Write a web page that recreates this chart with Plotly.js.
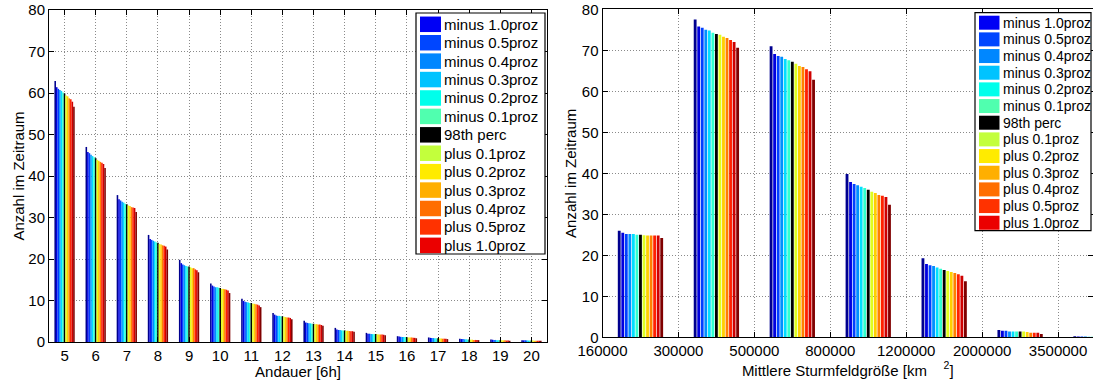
<!DOCTYPE html>
<html>
<head>
<meta charset="utf-8">
<script src="https://cdn.plot.ly/plotly-3.0.1.min.js"></script>
<style>html,body{margin:0;padding:0;background:#fff;}#chart{width:1093px;height:380px;}</style>
</head>
<body>
<div id="chart"></div>
<script>
// ---------------- DATA ----------------
const seriesNames = ['minus 1.0proz','minus 0.5proz','minus 0.4proz','minus 0.3proz','minus 0.2proz','minus 0.1proz','98th perc','plus 0.1proz','plus 0.2proz','plus 0.3proz','plus 0.4proz','plus 0.5proz','plus 1.0proz'];

// Left chart: Andauer [6h] categories
const durCats = [5,6,7,8,9,10,11,12,13,14,15,16,17,18,19,20];
const dur_m10 = [62.9,47.0,35.4,25.8,19.8,14.1,10.4,7.0,5.1,3.4,2.2,1.4,1.1,0.8,0.6,0.45];
const dur_m05 = [61.4,45.8,34.4,24.8,19.0,13.6,9.9,6.6,4.7,3.0,2.0,1.3,1.0,0.7,0.55,0.4];
const dur_m04 = [61.0,45.5,34.1,24.6,18.7,13.4,9.7,6.4,4.6,2.9,2.0,1.25,0.95,0.7,0.5,0.4];
const dur_m03 = [60.7,45.1,33.8,24.4,18.5,13.2,9.6,6.3,4.5,2.9,1.95,1.2,0.95,0.65,0.5,0.4];
const dur_m02 = [60.5,44.8,33.6,24.2,18.3,13.2,9.5,6.3,4.5,2.8,1.9,1.2,0.9,0.65,0.45,0.35];
const dur_m01 = [60.1,44.5,33.3,24.0,18.2,13.1,9.4,6.2,4.4,2.8,1.9,1.2,0.9,0.6,0.45,0.35];
const dur_p98 = [59.9,44.3,33.2,23.9,18.2,13.0,9.4,6.2,4.4,2.8,1.9,1.15,0.9,0.6,0.45,0.35];
const dur_p01 = [59.4,43.9,32.9,23.6,18.0,12.8,9.2,6.1,4.3,2.7,1.85,1.1,0.85,0.55,0.4,0.35];
const dur_p02 = [59.2,43.7,32.8,23.5,17.8,12.8,9.2,6.0,4.3,2.7,1.8,1.1,0.85,0.55,0.4,0.3];
const dur_p03 = [58.7,43.4,32.5,23.3,17.8,12.7,9.1,5.9,4.2,2.65,1.8,1.1,0.8,0.5,0.4,0.3];
const dur_p04 = [58.5,43.2,32.4,23.2,17.5,12.6,9.0,5.9,4.2,2.6,1.8,1.05,0.8,0.5,0.35,0.3];
const dur_p05 = [57.9,42.9,32.3,23.0,17.3,12.4,8.8,5.8,4.1,2.6,1.75,1.0,0.8,0.5,0.35,0.3];
const dur_p10 = [56.7,41.9,31.3,22.3,16.8,11.8,8.4,5.5,3.9,2.5,1.6,0.9,0.7,0.45,0.3,0.3];

// Right chart: Mittlere Sturmfeldgroesse bins (bin index) and bin-edge tick labels
const sizeBins = [1,2,3,4,5,6,7];
const sizeEdgeLabels = ['160000','300000','500000','800000','1200000','2000000','3500000'];
const size_m10 = [26.0,77.5,71.0,39.8,19.3,1.8,0.25];
const size_m05 = [25.5,75.8,69.1,37.9,17.9,1.6,0.2];
const size_m04 = [25.2,75.5,68.6,37.4,17.6,1.6,0.2];
const size_m03 = [25.2,75.0,68.4,37.1,17.4,1.4,0.2];
const size_m02 = [25.2,74.8,67.9,36.7,17.0,1.4,0.15];
const size_m01 = [25.0,74.3,67.6,36.4,16.7,1.4,0.15];
const size_p98 = [25.0,74.0,67.2,36.0,16.4,1.4,0.15];
const size_p01 = [24.9,73.8,66.7,35.5,16.2,1.4,0.15];
const size_p02 = [24.8,73.3,66.2,35.2,15.9,1.3,0.1];
const size_p03 = [24.8,73.0,65.9,34.7,15.7,1.1,0.1];
const size_p04 = [24.8,72.5,65.4,34.5,15.4,1.1,0.1];
const size_p05 = [24.8,72.0,64.9,34.2,15.0,1.1,0.1];
const size_p10 = [24.2,70.6,62.8,32.3,13.7,0.8,0.1];

const durSeries = [dur_m10,dur_m05,dur_m04,dur_m03,dur_m02,dur_m01,dur_p98,dur_p01,dur_p02,dur_p03,dur_p04,dur_p05,dur_p10];
const sizeSeries = [size_m10,size_m05,size_m04,size_m03,size_m02,size_m01,size_p98,size_p01,size_p02,size_p03,size_p04,size_p05,size_p10];

// ---------------- STYLE ----------------
const barColors = ['rgb(0,0,143)','rgb(0,0,223)','rgb(0,64,255)','rgb(0,143,255)','rgb(0,223,255)','rgb(48,255,207)','rgb(0,0,0)','rgb(223,255,32)','rgb(255,207,0)','rgb(255,128,0)','rgb(255,32,0)','rgb(207,0,0)','rgb(128,0,0)'];
const legendColors = ['rgb(0,0,245)','rgb(0,70,255)','rgb(0,135,255)','rgb(0,195,255)','rgb(0,255,235)','rgb(80,255,175)','rgb(0,0,0)','rgb(195,255,60)','rgb(255,235,0)','rgb(255,175,0)','rgb(255,110,0)','rgb(255,50,0)','rgb(235,0,0)'];

const W = 1093, H = 380;
const FONT = 'Liberation Sans, Arial, Helvetica, sans-serif';
const px = x => x / W;
const py = y => 1 - y / H;

const traces = [];
const nS = seriesNames.length;
// left: touching bars, group width ~0.652
const lGroup = 0.652, lSlot = lGroup / nS;
// right: separated bars, group width ~0.606
const rGroup = 0.606, rSlot = rGroup / nS;
for (let i = 0; i < nS; i++) {
  traces.push({
    type: 'bar', x: durCats, y: durSeries[i], name: seriesNames[i],
    xaxis: 'x', yaxis: 'y',
    offset: -lGroup / 2 + i * lSlot, width: lSlot,
    marker: {color: barColors[i], line: {width: 0}},
    showlegend: false, hoverinfo: 'x+y+name'
  });
  traces.push({
    type: 'bar', x: sizeBins, y: sizeSeries[i], name: seriesNames[i],
    xaxis: 'x2', yaxis: 'y2',
    offset: -rGroup / 2 + i * rSlot + rSlot * 0.1, width: rSlot * 0.8,
    marker: {color: barColors[i], line: {width: 0}},
    showlegend: false, hoverinfo: 'y+name'
  });
}

const axisCommon = {
  showline: true, linecolor: '#000', linewidth: 1, mirror: 'ticks',
  ticks: 'inside', ticklen: 5, tickwidth: 1, tickcolor: '#000',
  showgrid: true, gridcolor: '#8a8a8a', gridwidth: 1, griddash: '1px,2px',
  zeroline: false, automargin: false,
  tickfont: {family: FONT, size: 15, color: '#000'}
};

const shapes = [];
const annotations = [];
function buildLegend(o) {
  shapes.push({type: 'rect', xref: 'paper', yref: 'paper', layer: 'above',
    x0: px(o.x0), x1: px(o.x1), y0: py(o.y1), y1: py(o.y0),
    fillcolor: '#fff', line: {color: '#000', width: 1.2}});
  for (let i = 0; i < seriesNames.length; i++) {
    const yc = o.first + i * o.pitch;
    shapes.push({type: 'rect', xref: 'paper', yref: 'paper', layer: 'above',
      x0: px(o.sw0), x1: px(o.sw1), y0: py(yc + o.swH / 2), y1: py(yc - o.swH / 2),
      fillcolor: legendColors[i], line: {width: 0}});
    annotations.push({xref: 'paper', yref: 'paper', x: px(o.tx), y: py(yc),
      xanchor: 'left', yanchor: 'middle', showarrow: false, borderpad: 0,
      text: seriesNames[i], font: {family: FONT, size: o.fs, color: '#000'}});
  }
}
buildLegend({x0: 416, x1: 545, y0: 13, y1: 254, sw0: 420, sw1: 441, tx: 443, first: 24.3, pitch: 18.42, swH: 15.5, fs: 15});
buildLegend({x0: 975, x1: 1091, y0: 12.7, y1: 230.7, sw0: 979, sw1: 999.5, tx: 1001.5, first: 22.7, pitch: 16.67, swH: 14, fs: 14});

const layout = {
  width: W, height: H,
  margin: {l: 0, r: 0, t: 0, b: 0, pad: 0},
  paper_bgcolor: '#fff', plot_bgcolor: '#fff',
  barmode: 'overlay',
  showlegend: false,
  font: {family: FONT, size: 15, color: '#000'},
  xaxis: Object.assign({}, axisCommon, {
    domain: [px(49), px(547)], range: [4.5, 20.5], anchor: 'y',
    tickvals: durCats, ticktext: durCats.map(String),
    title: {text: 'Andauer [6h]', font: {family: FONT, size: 15, color: '#000'}, standoff: 0}
  }),
  yaxis: Object.assign({}, axisCommon, {
    domain: [py(342), py(10)], range: [0, 80], dtick: 10, anchor: 'x',
    title: {text: 'Anzahl im Zeitraum', font: {family: FONT, size: 15, color: '#000'}, standoff: 0}
  }),
  xaxis2: Object.assign({}, axisCommon, {
    domain: [px(602.5), 1], range: [0.5, 6.96], anchor: 'y2',
    tickvals: sizeBins.map(b => b - 0.5), ticktext: sizeEdgeLabels,
    title: {text: 'Mittlere Sturmfeldgröße [km\u00A0\u00A0\u00A0\u00A0<sup>2</sup>]', font: {family: FONT, size: 15, color: '#000'}, standoff: 0}
  }),
  yaxis2: Object.assign({}, axisCommon, {
    domain: [py(337.3), py(9.3)], range: [0, 80], dtick: 10, anchor: 'x2',
    title: {text: 'Anzahl im Zeitraum', font: {family: FONT, size: 15, color: '#000'}, standoff: 1}
  }),
  shapes: shapes,
  annotations: annotations
};

Plotly.newPlot('chart', traces, layout, {displayModeBar: false, staticPlot: true});
</script>
</body>
</html>
